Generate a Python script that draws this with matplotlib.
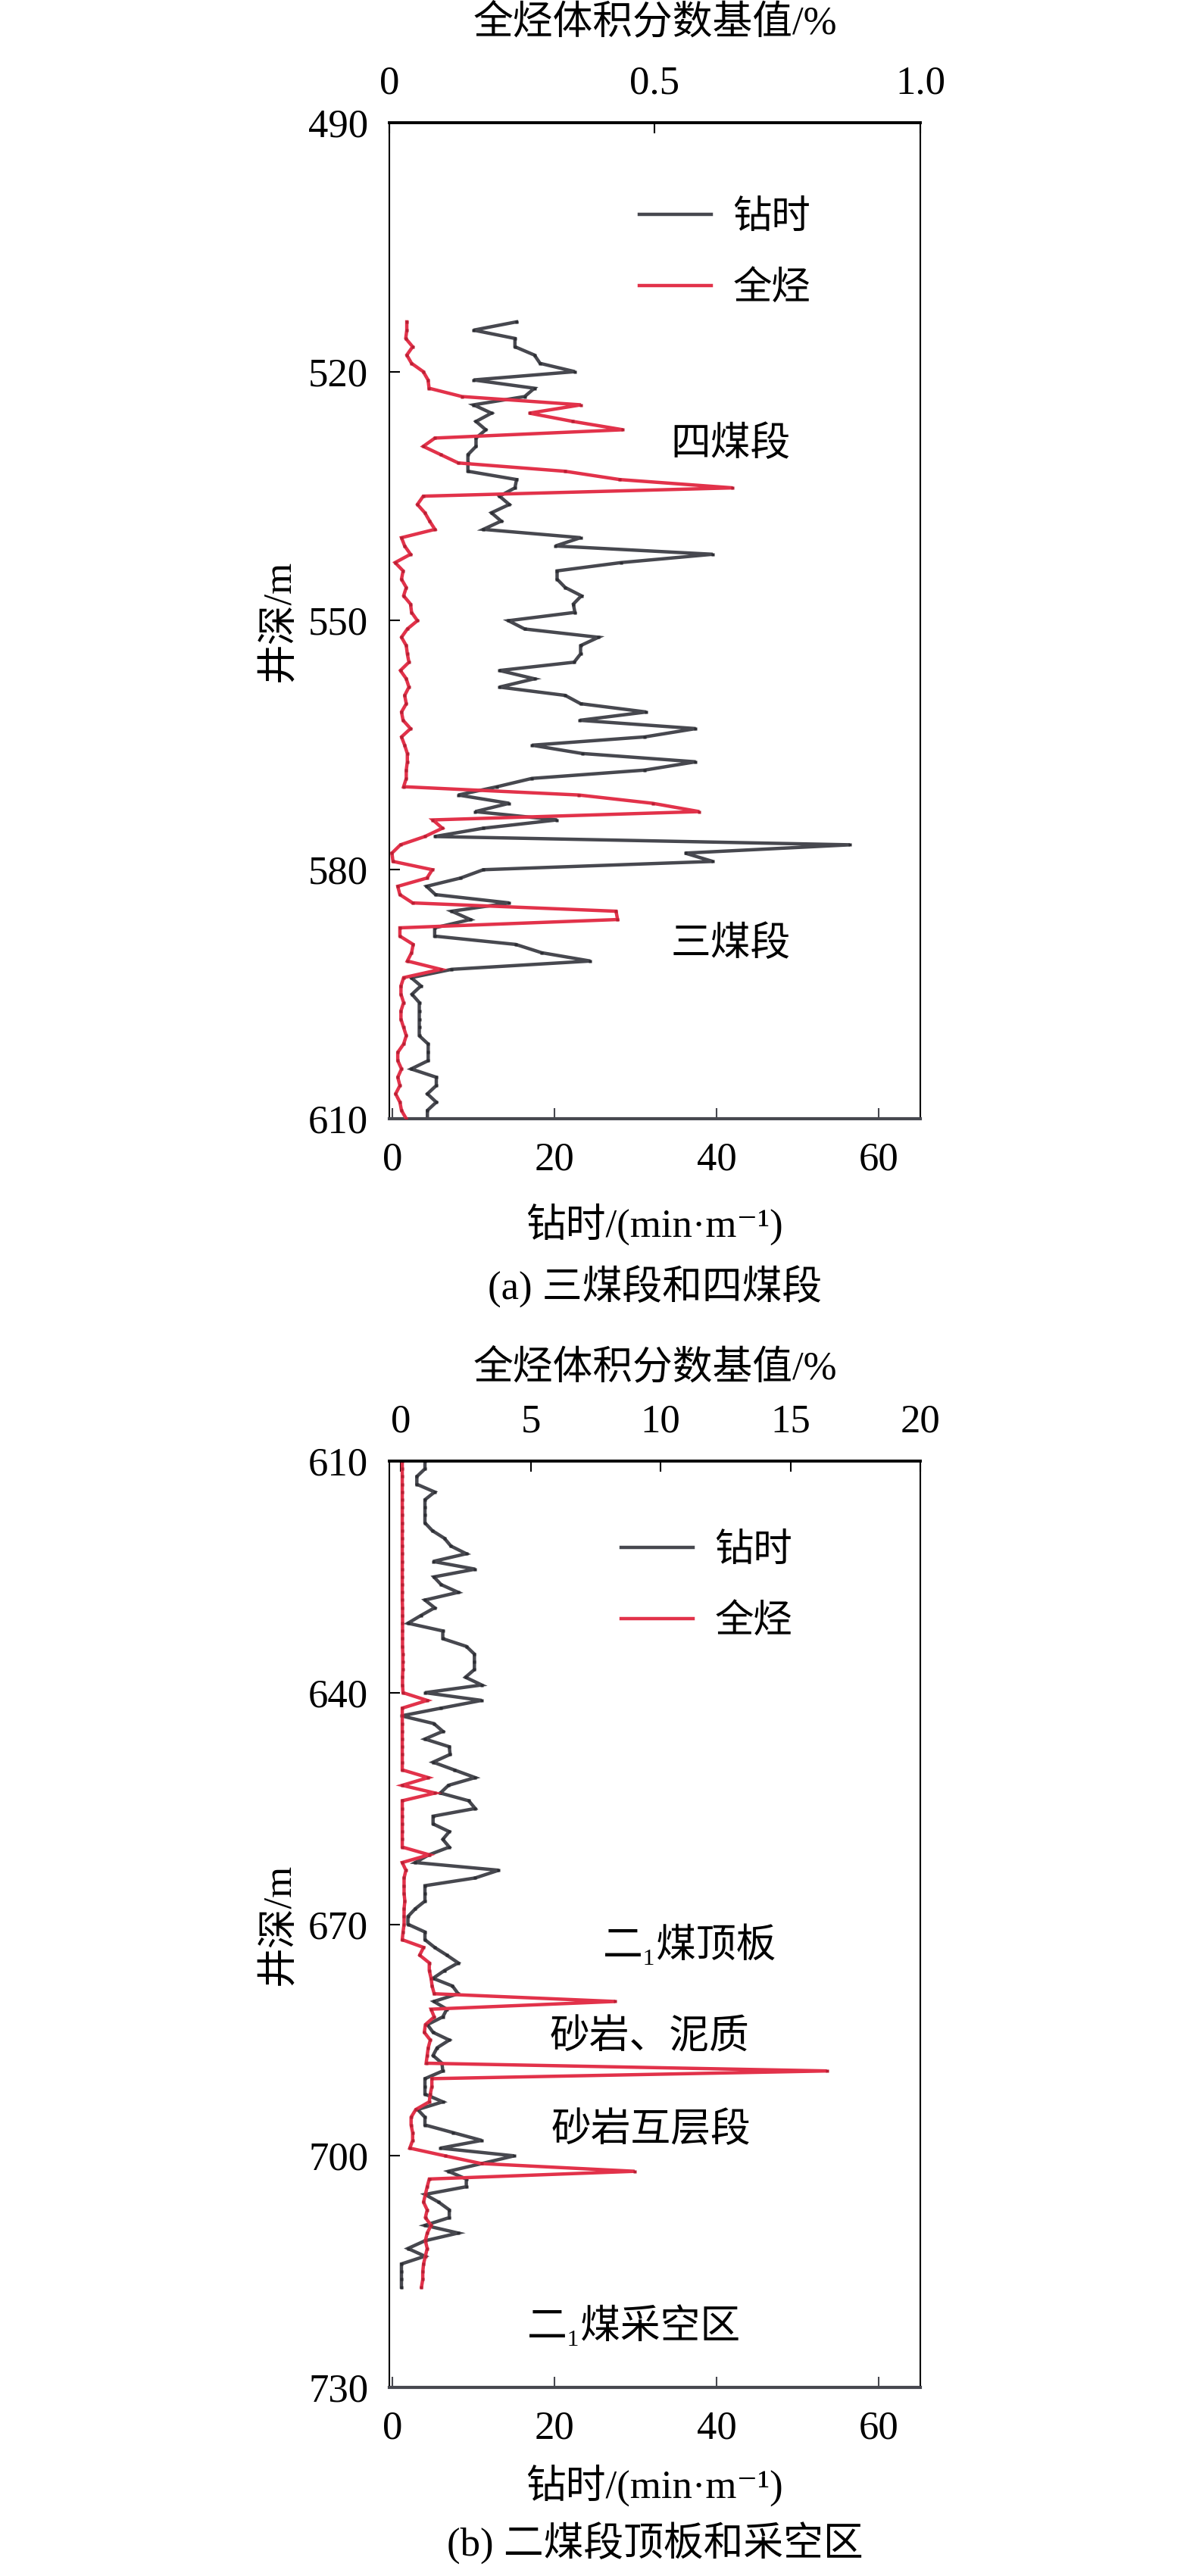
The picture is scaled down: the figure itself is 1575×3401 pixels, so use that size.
import numpy as np
import matplotlib
matplotlib.use("Agg")
import matplotlib.pyplot as plt
from matplotlib.lines import Line2D

plt.rcParams['font.family'] = ['Liberation Serif', 'Noto Sans CJK SC', 'DejaVu Serif']
plt.rcParams['axes.unicode_minus'] = False

# ---- panel (a): 三煤段和四煤段, depth 514-610 m, one reading per metre ----
depth_a = np.arange(514, 611)
drill_a = [15.3, 10.0, 15.1, 15.1, 17.5, 18.2, 22.5, 10.0, 17.5, 16.3,
           10.0, 12.2, 10.3, 11.5, 10.3, 10.3, 9.3, 9.3, 9.3, 15.3,
           15.1, 13.2, 14.4, 12.2, 13.4, 11.2, 23.2, 20.1, 39.5, 28.2,
           20.3, 20.3, 21.3, 23.3, 22.3, 22.5, 14.3, 16.3, 25.4, 23.2,
           23.2, 22.4, 13.2, 17.5, 13.2, 21.3, 23.2, 31.3, 23.1, 37.4,
           31.1, 17.2, 23.4, 37.4, 31.1, 17.2, 12.9, 8.1, 14.4, 10.2,
           20.3, 11.2, 5.2, 56.4, 36.1, 39.5, 11.2, 8.4, 4.2, 5.3,
           14.4, 7.3, 9.6, 5.2, 5.2, 15.2, 18.4, 24.4, 7.3, 2.3,
           3.5, 2.4, 3.3, 3.3, 3.3, 3.3, 3.3, 4.4, 4.4, 4.4,
           2.3, 5.4, 5.4, 4.3, 5.4, 4.3, 4.3]
gas_a = [0.033, 0.033, 0.031, 0.044, 0.033, 0.042, 0.064, 0.073, 0.075, 0.137,
         0.361, 0.264, 0.346, 0.440, 0.086, 0.064, 0.097, 0.130, 0.331, 0.434,
         0.647, 0.064, 0.053, 0.067, 0.076, 0.086, 0.023, 0.029, 0.040, 0.011,
         0.026, 0.023, 0.032, 0.027, 0.040, 0.042, 0.053, 0.034, 0.023, 0.032,
         0.034, 0.037, 0.021, 0.032, 0.037, 0.029, 0.032, 0.023, 0.026, 0.040,
         0.023, 0.029, 0.034, 0.034, 0.032, 0.032, 0.027, 0.357, 0.496, 0.584,
         0.082, 0.100, 0.067, 0.021, 0.005, 0.007, 0.081, 0.071, 0.016, 0.020,
         0.044, 0.427, 0.430, 0.020, 0.020, 0.045, 0.042, 0.034, 0.097, 0.027,
         0.022, 0.022, 0.027, 0.022, 0.022, 0.027, 0.032, 0.027, 0.016, 0.016,
         0.023, 0.016, 0.020, 0.012, 0.020, 0.023, 0.032]

# ---- panel (b): 二煤段顶板和采空区, depth 610-717 m ----
depth_b = np.arange(610, 718)
drill_b = [4.0, 4.0, 3.0, 3.0, 5.2, 4.0, 4.0, 4.0, 4.0, 4.9,
           6.4, 7.2, 9.1, 5.0, 10.2, 5.1, 6.0, 8.1, 4.0, 5.2,
           3.5, 1.9, 6.2, 6.2, 9.1, 10.1, 10.1, 10.1, 9.0, 11.0,
           4.0, 11.0, 6.0, 1.1, 5.1, 6.2, 4.0, 7.0, 7.1, 5.0,
           7.6, 10.2, 6.9, 5.9, 9.4, 10.2, 5.0, 5.0, 7.0, 6.2,
           7.0, 4.5, 2.8, 13.1, 10.2, 4.0, 4.0, 4.0, 2.8, 1.9,
           1.9, 4.0, 4.0, 5.2, 6.7, 8.1, 6.4, 5.0, 7.4, 8.1,
           5.1, 6.7, 6.2, 4.3, 5.0, 7.0, 5.5, 5.0, 6.1, 6.2,
           4.0, 4.0, 4.0, 6.2, 3.1, 4.0, 4.0, 7.5, 11.0, 5.9,
           15.0, 11.0, 6.9, 9.1, 9.1, 4.0, 5.7, 7.0, 7.0, 4.0,
           8.1, 4.0, 1.9, 4.0, 1.1, 1.1, 1.1, 1.1]
gas_b = [0.05, 0.05, 0.05, 0.05, 0.05, 0.05, 0.05, 0.05, 0.05, 0.05,
         0.05, 0.05, 0.05, 0.05, 0.05, 0.05, 0.05, 0.05, 0.05, 0.06,
         0.06, 0.06, 0.06, 0.06, 0.06, 0.07, 0.07, 0.07, 0.06, 0.06,
         0.08, 1.01, 0.05, 0.05, 0.05, 0.05, 0.05, 0.05, 0.05, 0.05,
         0.05, 1.05, 0.05, 1.31, 0.05, 0.05, 0.05, 0.05, 0.05, 0.05,
         0.05, 1.09, 0.05, 0.19, 0.12, 0.12, 0.12, 0.15, 0.12, 0.12,
         0.12, 0.08, 0.05, 0.87, 0.72, 1.09, 1.09, 1.16, 1.20, 1.28,
         8.25, 1.16, 1.28, 0.94, 0.90, 1.13, 1.05, 1.01, 0.97, 16.4,
         1.19, 1.19, 1.13, 1.09, 0.57, 0.39, 0.39, 0.45, 0.45, 0.34,
         1.70, 3.10, 9.00, 1.09, 1.01, 0.94, 0.87, 1.01, 0.94, 1.16,
         1.01, 0.94, 1.01, 0.94, 0.87, 0.84, 0.84, 0.79]

depth_ticks_a = [490, 520, 550, 580, 610]
depth_ticks_b = [610, 640, 670, 700, 730]
drill_ticks = [0, 20, 40, 60]
gas_ticks_a = [0, 0.5, 1.0]
gas_labels_a = ['0', '0.5', '1.0']
gas_ticks_b = [0, 5, 10, 15, 20]
gas_labels_b = ['0', '5', '10', '15', '20']

notes_a = [('四煤段', 41.7, 528.8), ('三煤段', 41.7, 589.0)]
notes_b = [('二₁煤顶板', 36.7, 672.7), ('砂岩、泥质', 31.7, 684.8),
           ('砂岩互层段', 31.9, 696.8), ('二₁煤采空区', 29.8, 722.0)]

DARK = '#47484f'
DARK_PT = '#2c2d33'
RED = '#e2324a'
RED_PT = '#b81f33'
FS = 38
LW = 3.2

fig = plt.figure(figsize=(15.75, 34.01), dpi=100)


def draw_panel(rect, depth, drill, gas, ylim, yticks, gas_lim, gas_ticks,
               gas_labels, notes, legend_xy, caption):
    ax = fig.add_axes(rect)
    ax2 = ax.twiny()

    ax.plot(drill, depth, color=DARK, lw=LW, marker='s', ms=3.4,
            mfc=DARK_PT, mec='none', solid_joinstyle='miter')
    ax2.plot(gas, depth, color=RED, lw=LW, marker='s', ms=3.4,
             mfc=RED_PT, mec='none', solid_joinstyle='miter')

    ax.set_xlim(-0.4, 65.1)
    ax2.set_xlim(*gas_lim)
    ax.set_ylim(ylim[1], ylim[0])

    ax.set_xticks(drill_ticks)
    ax.set_yticks(yticks)
    ax2.set_xticks(gas_ticks)
    ax2.set_xticklabels(gas_labels)

    ax.tick_params(axis='x', direction='in', length=10, width=1.5,
                   color=DARK, pad=22, labelsize=FS, top=False)
    ax.tick_params(axis='y', direction='in', length=10, width=1.5,
                   pad=20, labelsize=FS, right=False)
    ax2.tick_params(axis='x', direction='in', length=10, width=1.5,
                    pad=20, labelsize=FS)

    # frame: thick top, grey bottom, thin sides
    ax.spines['top'].set_visible(False)
    ax.spines['left'].set_linewidth(1.5)
    ax.spines['right'].set_linewidth(1.5)
    ax.spines['bottom'].set_linewidth(3)
    ax.spines['bottom'].set_color(DARK)
    for s in ['left', 'right', 'bottom']:
        ax2.spines[s].set_visible(False)
    ax2.spines['top'].set_linewidth(2.8)

    for txt, x, y in notes:
        ax.text(x, y, txt, ha='center', va='center', fontsize=FS)

    handles = [Line2D([], [], color=DARK, lw=LW),
               Line2D([], [], color=RED, lw=LW)]
    ax2.legend(handles, ['钻时', '全烃'], loc='center left',
               bbox_to_anchor=legend_xy, frameon=False, fontsize=37,
               handlelength=1.85, handletextpad=0.55, labelspacing=0.9,
               borderpad=0, borderaxespad=0)

    ax.text(0.5, 1.10, '全烃体积分数基值/%', transform=ax.transAxes,
            ha='center', va='center', fontsize=FS)
    ax.text(0.5, -0.106, '钻时/(min·m⁻¹)', transform=ax.transAxes,
            ha='center', va='center', fontsize=FS)
    ax.text(0.5, -0.168, caption, transform=ax.transAxes,
            ha='center', va='center', fontsize=FS)
    ax.text(-0.208, 0.5, '井深/m', transform=ax.transAxes, rotation=90,
            ha='center', va='center', fontsize=FS)
    return ax


draw_panel([0.3263, 0.5657, 0.4451, 0.3867], depth_a, drill_a, gas_a,
           (490, 610), depth_ticks_a, (0, 1.0), gas_ticks_a, gas_labels_a,
           notes_a, (0.471, 0.868), '(a) 三煤段和四煤段')
draw_panel([0.3263, 0.0732, 0.4451, 0.3596], depth_b, drill_b, gas_b,
           (610, 730), depth_ticks_b, (-0.45, 20), gas_ticks_b, gas_labels_b,
           notes_b, (0.437, 0.864), '(b) 二煤段顶板和采空区')

fig.savefig('out.png', dpi=100)
